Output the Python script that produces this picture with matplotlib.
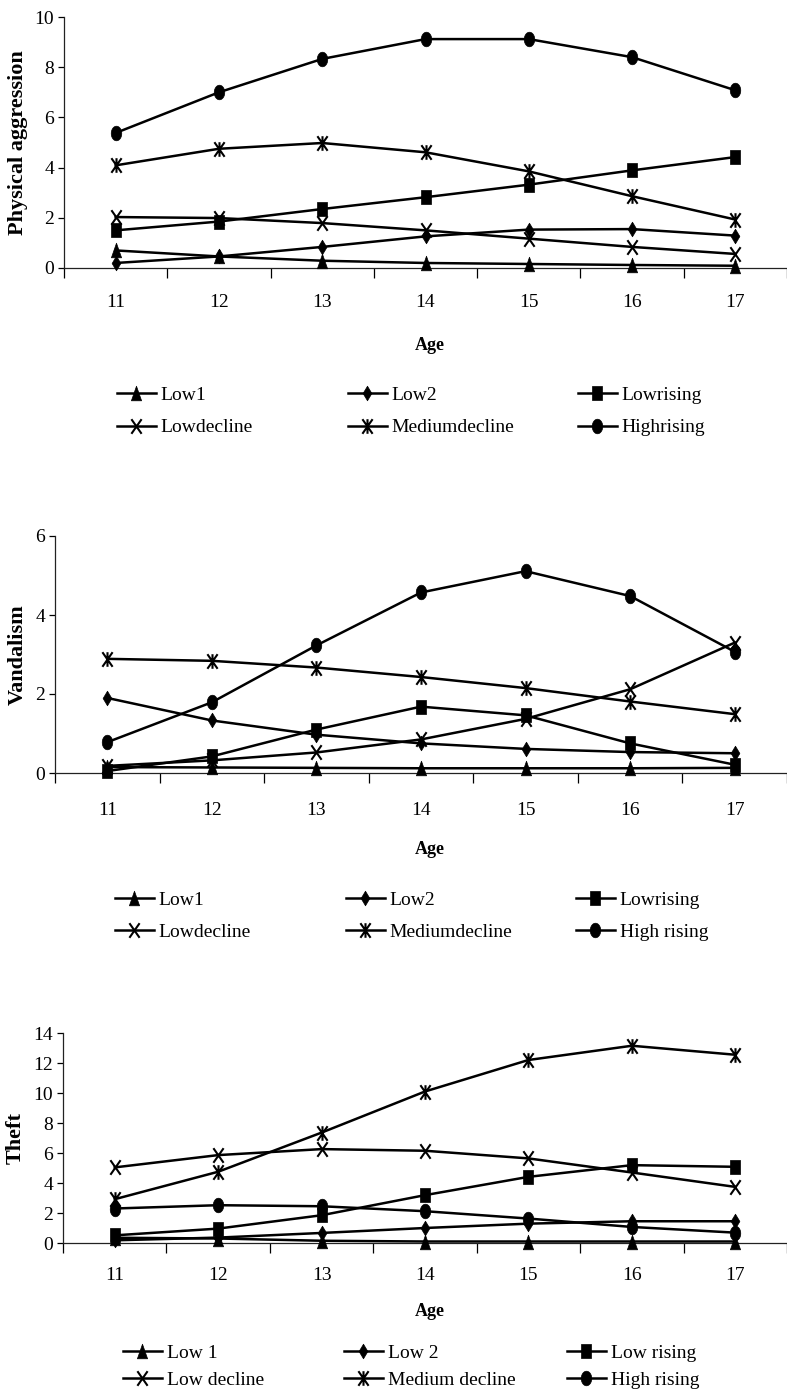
import matplotlib
matplotlib.use('Agg')
import matplotlib.pyplot as plt
import numpy as np
from matplotlib.path import Path


ages = [11, 12, 13, 14, 15, 16, 17]

# Physical aggression
pa_low1       = [0.70, 0.46, 0.29, 0.20, 0.16, 0.12, 0.09]
pa_low2       = [0.20, 0.46, 0.84, 1.26, 1.53, 1.55, 1.29]
pa_lowrising  = [1.50, 1.85, 2.35, 2.82, 3.32, 3.89, 4.42]
pa_lowdecline = [2.03, 1.99, 1.79, 1.50, 1.17, 0.84, 0.56]
pa_meddecline = [4.09, 4.75, 4.98, 4.61, 3.85, 2.86, 1.93]
pa_highrising = [5.38, 7.00, 8.33, 9.12, 9.12, 8.40, 7.08]

# Vandalism
va_low1       = [0.15, 0.14, 0.13, 0.12, 0.12, 0.12, 0.13]
va_low2       = [1.90, 1.33, 0.97, 0.75, 0.61, 0.53, 0.50]
va_lowrising  = [0.05, 0.42, 1.10, 1.68, 1.46, 0.75, 0.21]
va_lowdecline = [0.18, 0.32, 0.52, 0.85, 1.37, 2.12, 3.30]
va_meddecline = [2.89, 2.84, 2.67, 2.43, 2.15, 1.81, 1.49]
va_highrising = [0.78, 1.79, 3.23, 4.57, 5.11, 4.48, 3.07]

# Theft
th_low1       = [0.35, 0.30, 0.15, 0.10, 0.10, 0.10, 0.10]
th_low2       = [0.18, 0.36, 0.67, 1.00, 1.29, 1.45, 1.45]
th_lowrising  = [0.51, 0.96, 1.85, 3.19, 4.41, 5.19, 5.08]
th_lowdecline = [5.04, 5.86, 6.26, 6.15, 5.64, 4.70, 3.74]
th_meddecline = [2.92, 4.75, 7.36, 10.10, 12.20, 13.15, 12.55]
th_highrising = [2.30, 2.52, 2.45, 2.12, 1.63, 1.07, 0.69]

names_a = ['Low1', 'Low2', 'Lowrising', 'Lowdecline', 'Mediumdecline', 'Highrising']
names_b = ['Low1', 'Low2', 'Lowrising', 'Lowdecline', 'Mediumdecline', 'High rising']
names_c = ['Low 1', 'Low 2', 'Low rising', 'Low decline', 'Medium decline', 'High rising']

plt.rcParams['font.family'] = ['Liberation Serif', 'DejaVu Serif']

# markers are a bit taller than wide, like in the original
tri = Path([(-0.7, -1), (0.7, -1), (0, 1), (-0.7, -1)], closed=True)
dia = Path([(0, -1), (0.6, 0), (0, 1), (-0.6, 0), (0, -1)], closed=True)
sqr = Path([(-0.75, -1), (0.75, -1), (0.75, 1), (-0.75, 1), (-0.75, -1)], closed=True)
t = np.linspace(0, 2 * np.pi, 41)
ell = Path(np.column_stack([0.72 * np.cos(t), np.sin(t)]), closed=True)
xm = Path([(-0.7, -1), (0.7, 1), (-0.7, 1), (0.7, -1)],
          [Path.MOVETO, Path.LINETO, Path.MOVETO, Path.LINETO])
ast = Path([(-0.7, -1), (0.7, 1), (-0.7, 1), (0.7, -1), (0, -1), (0, 1)],
           [Path.MOVETO, Path.LINETO, Path.MOVETO, Path.LINETO, Path.MOVETO, Path.LINETO])

styles = [(tri, True), (dia, True), (sqr, True),
          (xm, False), (ast, False), (ell, True)]

W, H = 787, 1395
fig = plt.figure(figsize=(W / 100, H / 100), dpi=100)


def px(x, y):
    return x / W, 1 - y / H


def panel(series, names, left, top, bottom, ymax, ylabel, ylab_x,
          xlab_pad, age_y, leg_cols, leg_y, leg_space):
    x0, y0 = px(left, bottom)
    ax = fig.add_axes([x0, y0, 1 - x0, (bottom - top) / H])
    handles = []
    for vals, name, (m, filled) in zip(series, names, styles):
        ln, = ax.plot(ages, vals, color='black', lw=1.8, marker=m, markersize=10.5,
                      markerfacecolor='black' if filled else 'none',
                      markeredgecolor='black', markeredgewidth=0.5 if filled else 1.5,
                      label=name, clip_on=False, zorder=3)
        handles.append(ln)
    # the category axis runs a little past the right edge of the picture
    ax.set_xlim(10.5, 10.5 + 7.0 * (W - left) / (W - left + 8))
    ax.set_ylim(0, ymax)
    ax.set_yticks(np.arange(0, ymax + 1, 2))
    ax.set_xticks(ages)
    ax.set_xticks(np.arange(10.5, 18, 1), minor=True)
    ax.tick_params(axis='x', which='major', length=0, pad=xlab_pad, labelsize=14)
    ax.tick_params(axis='x', which='minor', length=7, width=0.9, direction='out')
    ax.tick_params(axis='y', length=4, width=0.9, pad=3, labelsize=14)
    for s in ['top', 'right']:
        ax.spines[s].set_visible(False)
    for s in ['left', 'bottom']:
        ax.spines[s].set_linewidth(0.9)
        ax.spines[s].set_color('#222222')
    ax.set_ylabel(ylabel, fontsize=16, fontweight='bold')
    ax.yaxis.set_label_coords((ylab_x - left) / (W - left), 0.5)
    ax.patch.set_visible(False)
    fig.text(*px(430, age_y), 'Age', fontsize=13, fontweight='bold',
             ha='center', va='center')
    # legend, one block per column so columns line up like the original
    for c, lx in enumerate(leg_cols):
        fig.legend(handles=[handles[c], handles[c + 3]], loc='center left',
                   bbox_to_anchor=px(lx, leg_y), frameon=False, fontsize=14,
                   handlelength=2.0, handletextpad=0.25, borderpad=0,
                   borderaxespad=0, labelspacing=leg_space)
    return ax


panel([pa_low1, pa_low2, pa_lowrising, pa_lowdecline, pa_meddecline, pa_highrising],
      names_a, 64, 17, 268, 10, 'Physical aggression', 28, 19, 345,
      [117, 348, 578], 411.5, 0.75)
panel([va_low1, va_low2, va_lowrising, va_lowdecline, va_meddecline, va_highrising],
      names_b, 55, 536, 773, 6, 'Vandalism', 28, 21, 850,
      [115, 346, 576], 916, 0.75)
panel([th_low1, th_low2, th_lowrising, th_lowdecline, th_meddecline, th_highrising],
      names_c, 63, 1033, 1243, 14, 'Theft', 26, 17, 1312,
      [123, 344, 567], 1366.5, 0.5)

fig.savefig('out.png', dpi=100)
